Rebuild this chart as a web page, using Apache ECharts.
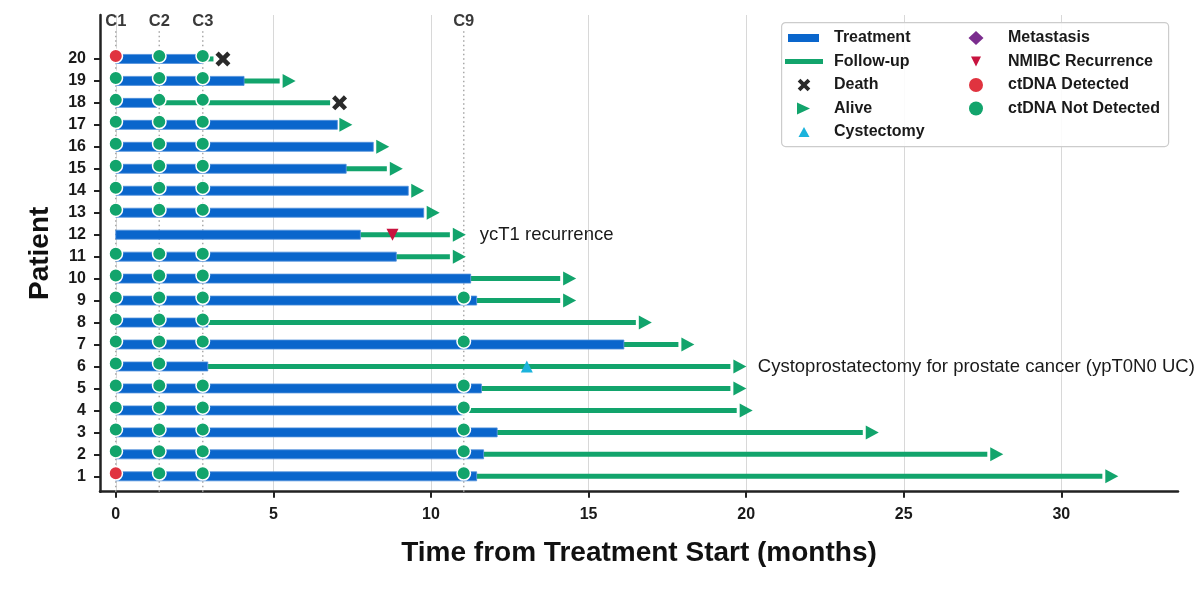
<!DOCTYPE html>
<html><head><meta charset="utf-8">
<script src="https://cdn.jsdelivr.net/npm/echarts@6/dist/echarts.min.js"></script>
<style>html,body{margin:0;padding:0;background:#fff}#c{width:1200px;height:591px}</style>
</head><body><div id="c"></div>
<script>
// ---------------- data ----------------
const patients  = [1,2,3,4,5,6,7,8,9,10,11,12,13,14,15,16,17,18,19,20];
const treatEnd  = [11.45,11.67,12.1,11.0,11.6,2.92,16.12,2.92,11.45,11.26,8.9,7.76,9.77,9.28,7.31,8.17,7.03,1.3,4.07,2.77];
const followEnd = [31.3,27.65,23.7,19.7,19.5,19.5,17.85,16.5,14.1,14.1,10.6,10.6,9.77,9.28,8.6,8.17,7.0,6.8,5.2,3.1];
const outcome   = ['alive','alive','alive','alive','alive','alive','alive','alive','alive','alive',
                   'alive','alive','alive','alive','alive','alive','alive','death','alive','death'];
const visitNames = ['C1','C2','C3','C9'];
const visitTimes = [0, 1.38, 2.76, 11.04];
// ctDNA status at C1, C2, C3, C9 (D = detected, N = not detected, '' = no sample)
const ctdna = [
  ['D','N','N','N'], ['N','N','N','N'], ['N','N','N','N'], ['N','N','N','N'], ['N','N','N','N'],
  ['N','N','',''],   ['N','N','N','N'], ['N','N','N',''],  ['N','N','N','N'], ['N','N','N',''],
  ['N','N','N',''],  ['','','',''],     ['N','N','N',''],  ['N','N','N',''],  ['N','N','N',''],
  ['N','N','N',''],  ['N','N','N',''],  ['N','N','N',''],  ['N','N','N',''],  ['D','N','N','']
];
const cystectomyPatients = [6];  const cystectomyTimes = [13.04];
const nmibcPatients      = [12]; const nmibcTimes      = [8.78];
const metastasisPatients = [];   const metastasisTimes = [];
const annotPatients = [12, 6];
const annotTimes    = [11.55, 20.37];
const annotTexts    = ['ycT1 recurrence', 'Cystoprostatectomy for prostate cancer (ypT0N0 UC)'];
const xTicks = [0,5,10,15,20,25,30];

// ---------------- style ----------------
const BLUE='#0a66cc', GREEN='#12a46c', RED='#e0333f', CRIMSON='#c8133f', CYAN='#1bb3dc', PURPLE='#7b2d8e', DARK='#2a2a2a';
const X_MIN=-0.5, X_MAX=33.7, Y_MIN=0.3, Y_MAX=22.0;
const END_OFFSET = 0.3;      // gap between follow-up line end and outcome marker
const VLINE_TOP = 21.4, VLABEL_Y = 21.72;
const FONT = '"Liberation Sans", Arial, sans-serif';

function xPath(cx, cy, L, t) {
  const pts = [[t,L],[t,t],[L,t],[L,-t],[t,-t],[t,-L],[-t,-L],[-t,-t],[-L,-t],[-L,t],[-t,t],[-t,L]];
  const c = Math.SQRT1_2;
  return pts.map((p,i)=>(i?'L':'M')+(cx+(p[0]-p[1])*c).toFixed(2)+','+(cy+(p[0]+p[1])*c).toFixed(2)).join('')+'Z';
}

// ---------------- derived series data ----------------
const treatData = patients.map((p,i)=>[0, treatEnd[i], p]);
const followData = patients.map((p,i)=>[treatEnd[i], followEnd[i], p]).filter(d=>d[1]>d[0]);
const detData=[], ndData=[];
patients.forEach((p,i)=>ctdna[i].forEach((s,j)=>{
  if (s==='D') detData.push([visitTimes[j], p]);
  else if (s==='N') ndData.push([visitTimes[j], p]);
}));
const aliveData = patients.map((p,i)=>outcome[i]==='alive'?[followEnd[i]+END_OFFSET,p]:null).filter(Boolean);
const deathData = patients.map((p,i)=>outcome[i]==='death'?[followEnd[i]+END_OFFSET,p]:null).filter(Boolean);
const cystData = cystectomyPatients.map((p,i)=>[cystectomyTimes[i], p]);
const nmibcData = nmibcPatients.map((p,i)=>[nmibcTimes[i], p]);
const metData = metastasisPatients.map((p,i)=>[metastasisTimes[i], p]);

const chart = echarts.init(document.getElementById('c'), null, {renderer:'canvas'});
const X_CHART = 'path://' + xPath(0,0,7,1.9);
const BOX1 = 'M0,0M50,14', BOX2 = 'M0,0M54,14';
const legendText = {fontSize:16, fontWeight:'bold', color:'#1a1a1a', lineHeight:14, fontFamily:FONT};

chart.setOption({
  animation:false,
  backgroundColor:'#fff',
  textStyle:{fontFamily:FONT},
  grid:{left:100, right:22, top:15, bottom:99.3, containLabel:false},
  xAxis:{
    type:'value', min:X_MIN, max:X_MAX,
    name:'Time from Treatment Start (months)', nameLocation:'middle', nameGap:48,
    nameTextStyle:{fontSize:28, fontWeight:'bold', color:'#111', fontFamily:FONT},
    axisLine:{show:true, onZero:false, lineStyle:{color:'#222', width:2.5}},
    axisTick:{show:true, customValues:xTicks, length:6, lineStyle:{color:'#222', width:2}},
    axisLabel:{customValues:xTicks, fontSize:16, fontWeight:'bold', color:'#1a1a1a', margin:15, fontFamily:FONT},
    splitLine:{show:true, lineStyle:{color:'#d8d8d8', width:1}}
  },
  yAxis:{
    type:'value', min:Y_MIN, max:Y_MAX,
    name:'Patient', nameLocation:'middle', nameGap:46, nameRotate:90,
    nameTextStyle:{fontSize:28, fontWeight:'bold', color:'#111', fontFamily:FONT},
    axisLine:{show:true, onZero:false, lineStyle:{color:'#222', width:2.5}},
    axisTick:{show:true, customValues:patients, length:6, lineStyle:{color:'#222', width:2}},
    axisLabel:{customValues:patients, fontSize:16, fontWeight:'bold', color:'#1a1a1a', margin:14, fontFamily:FONT},
    splitLine:{show:false}
  },
  graphic:[{type:'rect', left:781, top:22, shape:{width:387, height:124, r:4}, style:{fill:'rgba(255,255,255,0.9)', stroke:'#cccccc', lineWidth:1.2}, z:50, silent:true}],
  legend:[
    {left:774, top:25, orient:'vertical', itemWidth:50, itemHeight:14, itemGap:7.5, selectedMode:false, z:60,
     textStyle:legendText,
     data:[
      {name:'Treatment', icon:'path://'+BOX1+'M9,3H40V11H9Z', itemStyle:{color:BLUE, borderWidth:0}},
      {name:'Follow-up', icon:'path://'+BOX1+'M6,4.5H44V9.5H6Z', itemStyle:{color:GREEN, borderWidth:0}},
      {name:'Death', icon:'path://'+BOX1+xPath(25,7,7,1.9), itemStyle:{color:DARK, borderWidth:0}},
      {name:'Alive', icon:'path://'+BOX1+'M18,1L31,7L18,13Z', itemStyle:{color:GREEN, borderWidth:0}},
      {name:'Cystectomy', icon:'path://'+BOX1+'M25,2L30.5,12H19.5Z', itemStyle:{color:CYAN, borderWidth:0}}
     ]},
    {left:944, top:25, orient:'vertical', itemWidth:54, itemHeight:14, itemGap:7.5, selectedMode:false, z:60,
     textStyle:legendText,
     data:[
      {name:'Metastasis', icon:'path://'+BOX2+'M27,0L34.5,7L27,14L19.5,7Z', itemStyle:{color:PURPLE, borderWidth:0}},
      {name:'NMIBC Recurrence', icon:'path://'+BOX2+'M22,2H32L27,12Z', itemStyle:{color:CRIMSON, borderWidth:0}},
      {name:'ctDNA Detected', icon:'circle', itemStyle:{color:RED, borderWidth:0}},
      {name:'ctDNA Not Detected', icon:'circle', itemStyle:{color:GREEN, borderWidth:0}}
     ]}
  ],
  series:[
    {name:'visits', type:'custom', silent:true, z:1,
     data: visitTimes.map((t,i)=>[t,i]),
     renderItem:(params, api)=>{
       const t = api.value(0), i = api.value(1);
       const b = api.coord([t, Y_MIN]), top = api.coord([t, VLINE_TOP]), lab = api.coord([t, VLABEL_Y]);
       return {type:'group', children:[
         {type:'line', shape:{x1:b[0], y1:b[1], x2:top[0], y2:top[1]}, style:{stroke:'#a8a8a8', lineWidth:1.5, lineDash:[1.5,3]}},
         {type:'text', x:lab[0], y:lab[1], style:{text:visitNames[i], fill:'#3a3a3a', font:'bold 16.5px '+FONT, align:'center', verticalAlign:'middle'}}
       ]};
     }},
    {name:'Follow-up', type:'custom', silent:true, z:2, data:followData,
     encode:{x:[0,1], y:2},
     renderItem:(params, api)=>{
       const s = api.coord([api.value(0), api.value(2)]), e = api.coord([api.value(1), api.value(2)]);
       return {type:'rect', shape:{x:s[0], y:s[1]-2.5, width:e[0]-s[0], height:5}, style:{fill:GREEN}};
     }},
    {name:'Treatment', type:'custom', silent:true, z:3, data:treatData,
     encode:{x:[0,1], y:2},
     renderItem:(params, api)=>{
       const s = api.coord([api.value(0), api.value(2)]), e = api.coord([api.value(1), api.value(2)]);
       return {type:'rect', shape:{x:s[0], y:s[1]-4.5, width:e[0]-s[0], height:9}, style:{fill:BLUE, stroke:'#4f8fdb', lineWidth:0.8}};
     }},
    {name:'NMIBC Recurrence', type:'scatter', silent:true, z:4, symbol:'path://M0,0H12L6,12Z', symbolSize:12,
     itemStyle:{color:CRIMSON, opacity:1}, data:nmibcData},
    {name:'Cystectomy', type:'scatter', silent:true, z:4, symbol:'path://M6,0L12,12H0Z', symbolSize:12,
     itemStyle:{color:CYAN, opacity:1}, data:cystData},
    {name:'Metastasis', type:'scatter', silent:true, z:4, symbol:'diamond', symbolSize:14,
     itemStyle:{color:PURPLE, opacity:1}, data:metData},
    {name:'Alive', type:'scatter', silent:true, z:4, symbol:'path://M0,0L13,7L0,14Z', symbolSize:[13,14],
     itemStyle:{color:GREEN, opacity:1}, data:aliveData},
    {name:'Death', type:'scatter', silent:true, z:4, symbol:X_CHART, symbolSize:15,
     itemStyle:{color:DARK, opacity:1}, data:deathData},
    {name:'ctDNA Not Detected', type:'scatter', silent:true, z:5, symbol:'circle', symbolSize:13.5, symbolOffset:[0,-3],
     itemStyle:{color:GREEN, borderColor:'#fff', borderWidth:1.5, opacity:1}, data:ndData},
    {name:'ctDNA Detected', type:'scatter', silent:true, z:5, symbol:'circle', symbolSize:13.5, symbolOffset:[0,-3],
     itemStyle:{color:RED, borderColor:'#fff', borderWidth:1.5, opacity:1}, data:detData},
    {name:'annotations', type:'custom', silent:true, z:6,
     data: annotPatients.map((p,i)=>[annotTimes[i], p, i]),
     renderItem:(params, api)=>{
       const c = api.coord([api.value(0), api.value(1)]);
       return {type:'text', x:c[0], y:c[1], style:{text:annotTexts[api.value(2)], fill:'#1a1a1a', font:'18.5px '+FONT, align:'left', verticalAlign:'middle'}};
     }}
  ]
});
</script></body></html>
